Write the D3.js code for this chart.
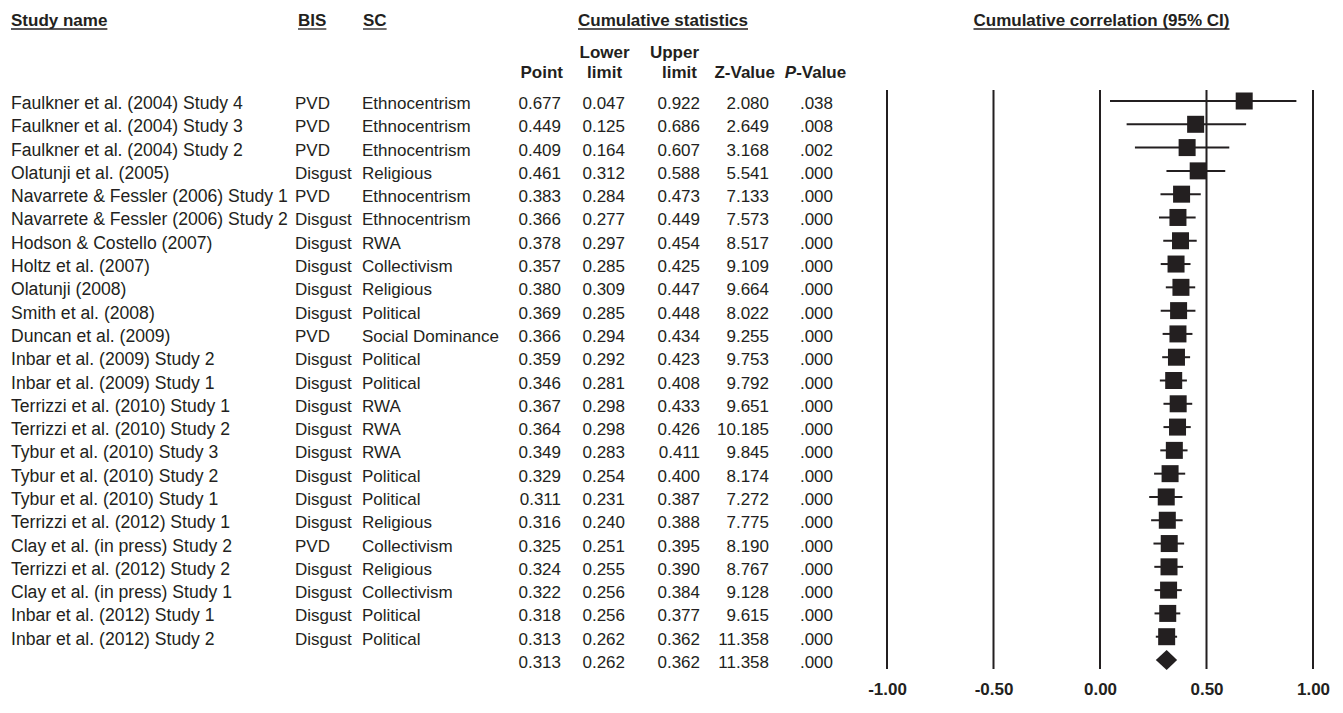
<!DOCTYPE html>
<html>
<head>
<meta charset="utf-8">
<script src="https://cdn.jsdelivr.net/npm/d3@7"></script>
<style>
  body { margin: 0; background: #fff; }
  svg text { font-family: "Liberation Sans", Arial, Helvetica, sans-serif; fill: #231f20; }
</style>
</head>
<body>
<div id="viz-forest"></div>
<script>
// Cumulative meta-analysis forest plot (behavioural immune system vs social conservatism)

// Study labels and moderators
const studyNames = [
    'Faulkner et al. (2004) Study 4',
    'Faulkner et al. (2004) Study 3',
    'Faulkner et al. (2004) Study 2',
    'Olatunji et al. (2005)',
    'Navarrete & Fessler (2006) Study 1',
    'Navarrete & Fessler (2006) Study 2',
    'Hodson & Costello (2007)',
    'Holtz et al. (2007)',
    'Olatunji (2008)',
    'Smith et al. (2008)',
    'Duncan et al. (2009)',
    'Inbar et al. (2009) Study 2',
    'Inbar et al. (2009) Study 1',
    'Terrizzi et al. (2010) Study 1',
    'Terrizzi et al. (2010) Study 2',
    'Tybur et al. (2010) Study 3',
    'Tybur et al. (2010) Study 2',
    'Tybur et al. (2010) Study 1',
    'Terrizzi et al. (2012) Study 1',
    'Clay et al. (in press) Study 2',
    'Terrizzi et al. (2012) Study 2',
    'Clay et al. (in press) Study 1',
    'Inbar et al. (2012) Study 1',
    'Inbar et al. (2012) Study 2'
];
const bisLabels = ['PVD', 'PVD', 'PVD', 'Disgust', 'PVD', 'Disgust', 'Disgust', 'Disgust', 'Disgust', 'Disgust',
    'PVD', 'Disgust', 'Disgust', 'Disgust', 'Disgust', 'Disgust', 'Disgust', 'Disgust', 'Disgust', 'PVD',
    'Disgust', 'Disgust', 'Disgust', 'Disgust'];
const scLabels = ['Ethnocentrism', 'Ethnocentrism', 'Ethnocentrism', 'Religious', 'Ethnocentrism', 'Ethnocentrism',
    'RWA', 'Collectivism', 'Religious', 'Political', 'Social Dominance', 'Political', 'Political', 'RWA', 'RWA',
    'RWA', 'Political', 'Political', 'Religious', 'Collectivism', 'Religious', 'Collectivism', 'Political', 'Political'];

// Cumulative statistics (last entry = overall summary)
const pointValues = [0.677, 0.449, 0.409, 0.461, 0.383, 0.366, 0.378, 0.357, 0.380, 0.369, 0.366, 0.359, 0.346,
    0.367, 0.364, 0.349, 0.329, 0.311, 0.316, 0.325, 0.324, 0.322, 0.318, 0.313, 0.313];
const lowerValues = [0.047, 0.125, 0.164, 0.312, 0.284, 0.277, 0.297, 0.285, 0.309, 0.285, 0.294, 0.292, 0.281,
    0.298, 0.298, 0.283, 0.254, 0.231, 0.240, 0.251, 0.255, 0.256, 0.256, 0.262, 0.262];
const upperValues = [0.922, 0.686, 0.607, 0.588, 0.473, 0.449, 0.454, 0.425, 0.447, 0.448, 0.434, 0.423, 0.408,
    0.433, 0.426, 0.411, 0.400, 0.387, 0.388, 0.395, 0.390, 0.384, 0.377, 0.362, 0.362];
const zValues = ['2.080', '2.649', '3.168', '5.541', '7.133', '7.573', '8.517', '9.109', '9.664', '8.022', '9.255',
    '9.753', '9.792', '9.651', '10.185', '9.845', '8.174', '7.272', '7.775', '8.190', '8.767', '9.128', '9.615',
    '11.358', '11.358'];
const pValues = ['.038', '.008', '.002', '.000', '.000', '.000', '.000', '.000', '.000', '.000', '.000', '.000',
    '.000', '.000', '.000', '.000', '.000', '.000', '.000', '.000', '.000', '.000', '.000', '.000', '.000'];

// Axis ticks
const axisTicks = [-1, -0.5, 0, 0.5, 1];

const ink = '#231f20';
const fontSize = 17;

const rows = pointValues.map((p, i) => ({
    name: studyNames[i] || '',
    bis: bisLabels[i] || '',
    sc: scLabels[i] || '',
    point: p,
    lower: lowerValues[i],
    upper: upperValues[i],
    z: zValues[i],
    p: pValues[i],
    summary: i === pointValues.length - 1
}));

const width = 1343;
const height = 713;

const svg = d3.select('#viz-forest').append('svg')
    .attr('width', width)
    .attr('height', height);

// Scales
const xScale = d3.scaleLinear()
    .domain([-1, 1])
    .range([887, 1313]);

const yScale = d3.scaleLinear()
    .domain([0, rows.length - 1])
    .range([101, 660]);

const textDy = 8;

// Column headers
function header(text, x, y, anchor, opts = {}) {
    const t = svg.append('text')
        .attr('x', x)
        .attr('y', y)
        .attr('text-anchor', anchor)
        .style('font-size', fontSize + 'px')
        .style('font-weight', '700')
        .text(text);
    if (opts.underline) {
        const box = t.node().getBBox();
        svg.append('line')
            .attr('x1', box.x)
            .attr('x2', box.x + box.width)
            .attr('y1', y + 3)
            .attr('y2', y + 3)
            .attr('stroke', ink)
            .attr('stroke-width', 1.3);
    }
    return t;
}

header('Study name', 11, 26, 'start', { underline: true });
header('BIS', 298, 26, 'start', { underline: true });
header('SC', 363, 26, 'start', { underline: true });
header('Cumulative statistics', 663, 26, 'middle', { underline: true });
header('Cumulative correlation (95% CI)', 1101.5, 26, 'middle', { underline: true });

header('Lower', 604.6, 58, 'middle');
header('Upper', 699, 58, 'end');
header('Point', 563, 78, 'end');
header('limit', 604.6, 78, 'middle');
header('limit', 697, 78, 'end');
header('Z-Value', 744.7, 78, 'middle');

const pHead = header('', 815.5, 78, 'middle');
pHead.append('tspan').style('font-style', 'italic').text('P');
pHead.append('tspan').text('-Value');

// Table columns
const columns = [
    { key: 'name', x: 11, anchor: 'start', size: 17.6, fmt: d => d },
    { key: 'bis', x: 295, anchor: 'start', size: fontSize, fmt: d => d },
    { key: 'sc', x: 362, anchor: 'start', size: fontSize, fmt: d => d },
    { key: 'point', x: 561, anchor: 'end', size: fontSize, fmt: d3.format('.3f') },
    { key: 'lower', x: 625, anchor: 'end', size: fontSize, fmt: d3.format('.3f') },
    { key: 'upper', x: 700, anchor: 'end', size: fontSize, fmt: d3.format('.3f') },
    { key: 'z', x: 769, anchor: 'end', size: fontSize, fmt: d => d },
    { key: 'p', x: 833, anchor: 'end', size: fontSize, fmt: d => d }
];

const table = svg.append('g').attr('class', 'table');

columns.forEach(col => {
    table.selectAll(`.col-${col.key}`)
        .data(rows)
        .enter()
        .append('text')
        .attr('class', `col-${col.key}`)
        .attr('x', col.x)
        .attr('y', (d, i) => yScale(i) + textDy)
        .attr('text-anchor', col.anchor)
        .style('font-size', col.size + 'px')
        .text(d => col.fmt(d[col.key]));
});

// Vertical reference lines
const plot = svg.append('g').attr('class', 'plot');

plot.selectAll('.grid')
    .data(axisTicks)
    .enter()
    .append('line')
    .attr('class', 'grid')
    .attr('x1', d => xScale(d))
    .attr('x2', d => xScale(d))
    .attr('y1', 90)
    .attr('y2', 669)
    .attr('stroke', ink)
    .attr('stroke-width', 2);

// Axis labels (plain hyphen for negatives)
const xAxis = d3.axisBottom(xScale)
    .tickValues(axisTicks)
    .tickFormat(d => d3.format('.2f')(d).replace('\u2212', '-'))
    .tickSize(0)
    .tickPadding(0);

const axisG = svg.append('g')
    .attr('transform', 'translate(0, 682)')
    .call(xAxis);

axisG.select('.domain').remove();
axisG.selectAll('text')
    .attr('dy', '0.75em')
    .style('font-family', '"Liberation Sans", Arial, Helvetica, sans-serif')
    .style('font-size', fontSize + 'px')
    .style('font-weight', '700')
    .style('fill', ink);

// Confidence intervals
const studies = rows.filter(d => !d.summary);
const boxSize = 17;

plot.selectAll('.ci')
    .data(studies)
    .enter()
    .append('line')
    .attr('class', 'ci')
    .attr('x1', d => xScale(d.lower))
    .attr('x2', d => xScale(d.upper))
    .attr('y1', (d, i) => yScale(i))
    .attr('y2', (d, i) => yScale(i))
    .attr('stroke', ink)
    .attr('stroke-width', 2);

// Point estimates
plot.selectAll('.box')
    .data(studies)
    .enter()
    .append('rect')
    .attr('class', 'box')
    .attr('x', d => xScale(d.point) - boxSize / 2)
    .attr('y', (d, i) => yScale(i) - boxSize / 2)
    .attr('width', boxSize)
    .attr('height', boxSize)
    .attr('fill', ink);

// Summary diamond
const summary = rows[rows.length - 1];
const sy = yScale(rows.length - 1);
plot.append('path')
    .attr('d', `M${xScale(summary.lower)},${sy} L${xScale(summary.point)},${sy - 10} L${xScale(summary.upper)},${sy} L${xScale(summary.point)},${sy + 10} Z`)
    .attr('fill', ink);
</script>
</body>
</html>
